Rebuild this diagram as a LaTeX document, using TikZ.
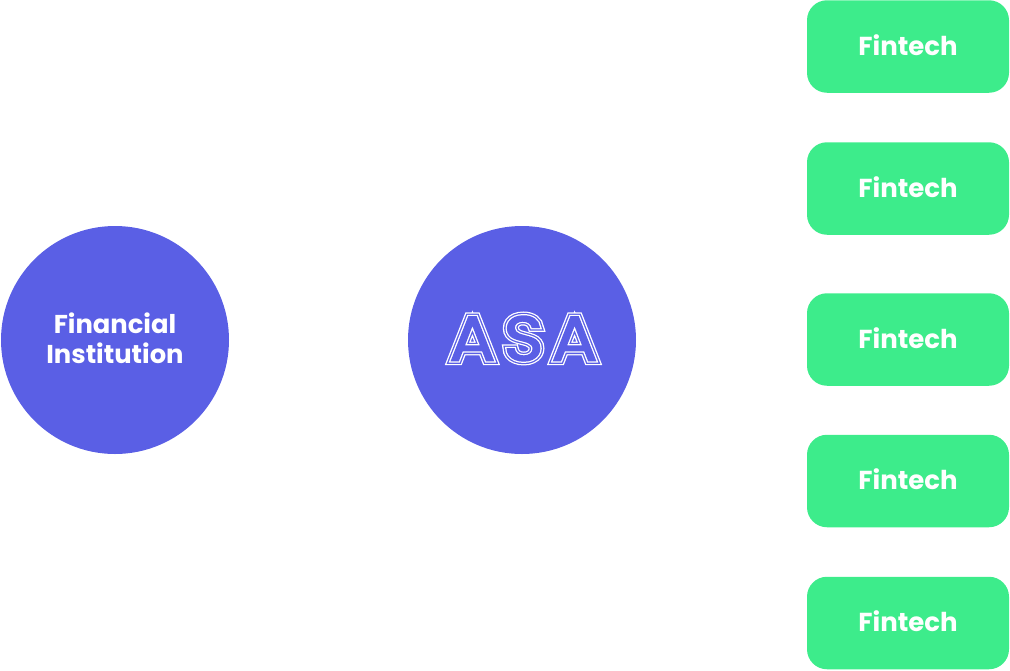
\documentclass[tikz,border=0pt]{standalone}
\usepackage{graphicx}
\usepackage{fontspec}
\setmainfont{Poppins}
\newfontfamily\asafont[LetterSpace=12]{Poppins}
\definecolor{circblue}{HTML}{5A5FE5}
\definecolor{boxgreen}{HTML}{3DEC8B}
\newcommand{\trmode}[2]{\special{pdf:literal direct #1 Tr #2 w}}
\newcommand{\trreset}{\special{pdf:literal direct 0 Tr 1 w}}
\newcommand{\asaword}[1]{\scalebox{1.08}[1]{\trmode{2}{#1}ASA\trreset}}
\tikzset{
  bigcircle/.style={circle, fill=circblue, minimum size=228pt, inner sep=0pt},
  fintechbox/.style={rectangle, rounded corners=20pt, fill=boxgreen, minimum width=202pt, minimum height=92.5pt, inner sep=0pt, text=white, text height=17pt, text depth=0pt, font=\fontsize{26}{30}\selectfont\bfseries},
  circtext/.style={text=white, align=center, font=\fontsize{25.8}{30}\selectfont\bfseries},
  asalayer/.style={anchor=base, inner sep=0pt, font=\asafont\fontsize{63}{63}\selectfont}
}
\begin{document}
\begin{tikzpicture}[x=1pt, y=-1pt]
\useasboundingbox (0,0) rectangle (1010,670);
\node[bigcircle] (fi) at (115,340) {};
\node[circtext] (fitext) at (115,338) {Financial\\Institution};
\node[bigcircle] (asa) at (522,340) {};
\node[asalayer, text=white] (asa1) at (523.5,360.5) {\asaword{9}};
\node[asalayer, text=circblue] (asa2) at (523.5,360.5) {\asaword{6.5}};
\node[asalayer, text=white] (asa3) at (523.5,360.5) {\asaword{4}};
\node[asalayer, text=circblue] (asa4) at (523.5,360.5) {\asaword{1.5}};
\node[fintechbox] (f1) at (908,46.5) {Fintech};
\node[fintechbox] (f2) at (908,188.5) {Fintech};
\node[fintechbox] (f3) at (908,339.5) {Fintech};
\node[fintechbox] (f4) at (908,481) {Fintech};
\node[fintechbox] (f5) at (908,623) {Fintech};
\end{tikzpicture}
\end{document}
